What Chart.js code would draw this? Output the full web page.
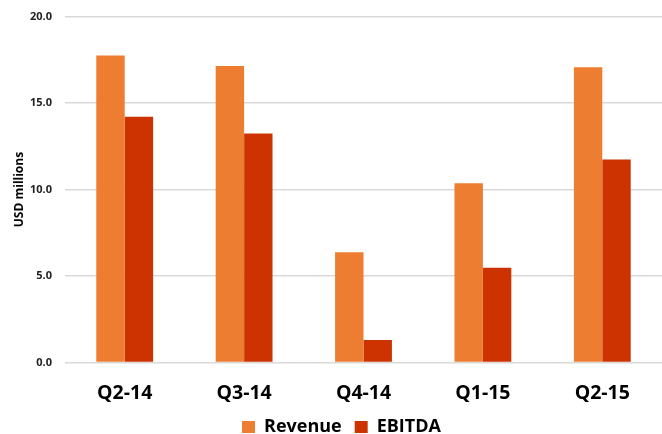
<!DOCTYPE html>
<html>
<head>
<meta charset="utf-8">
<script src="https://cdn.jsdelivr.net/npm/chart.js@4"></script>
<style>
  html, body { margin: 0; padding: 0; background: #fff; }
  #wrap { width: 662px; height: 434px; overflow: hidden; }
</style>
</head>
<body>
<div id="wrap"><canvas id="finChart" width="662" height="434"></canvas></div>
<script>
// Quarterly figures, USD millions
const quarters = ['Q2-14', 'Q3-14', 'Q4-14', 'Q1-15', 'Q2-15'];
const revenue = [17.74, 17.14, 6.37, 10.37, 17.07];
const ebitda = [14.2, 13.24, 1.31, 5.48, 11.74];
const yTicks = [0, 5, 10, 15, 20];

const fontFamily = '"Open Sans", "Liberation Sans", sans-serif';

const ctx = document.getElementById('finChart').getContext('2d');
const finChart = new Chart(ctx, {
    type: 'bar',
    data: {
        labels: quarters,
        datasets: [{
            label: 'Revenue',
            data: revenue,
            backgroundColor: '#ED7D31',
            categoryPercentage: 0.476,
            barPercentage: 1.0
        }, {
            label: 'EBITDA',
            data: ebitda,
            backgroundColor: '#CC3300',
            categoryPercentage: 0.476,
            barPercentage: 1.0
        }]
    },
    options: {
        responsive: false,
        animation: false,
        // plot runs a little past the right edge of the canvas
        layout: { padding: { left: 12, right: -9, top: 0, bottom: -12 } },
        plugins: {
            tooltip: { enabled: false },
            legend: {
                position: 'bottom',
                labels: {
                    boxWidth: 13,
                    boxHeight: 12,
                    padding: 13,
                    color: '#000',
                    font: { family: fontFamily, size: 18, weight: 'bold' }
                }
            }
        },
        scales: {
            x: {
                // tick marks are hidden, their length just spaces the labels
                grid: { display: false, tickLength: 19 },
                border: { display: false },
                ticks: {
                    color: '#000',
                    padding: 0,
                    font: { family: fontFamily, size: 19.5, weight: 'bold' }
                },
                afterFit: axis => {
                    axis.paddingLeft = 0;
                    axis.paddingRight = -9;
                }
            },
            y: {
                min: 0,
                max: 20,
                afterBuildTicks: axis => {
                    axis.ticks = yTicks.map(v => ({ value: v }));
                },
                // tighten the gap between the axis title and the tick labels
                afterFit: axis => {
                    axis.width -= 12.4;
                    axis.paddingTop = 16.5;
                    axis.paddingBottom = 0;
                    axis.paddingRight = -9;
                },
                grid: { color: '#d9d9d9', lineWidth: 1.5, drawTicks: false },
                border: { display: false },
                ticks: {
                    color: '#222',
                    padding: 13,
                    font: { family: fontFamily, size: 11, weight: 'bold' },
                    callback: v => v.toFixed(1)
                },
                title: {
                    display: true,
                    text: 'USD millions',
                    color: '#000',
                    padding: { top: 0, bottom: 3 },
                    font: { family: fontFamily, size: 12, weight: 'bold' }
                }
            }
        }
    }
});
</script>
</body>
</html>
